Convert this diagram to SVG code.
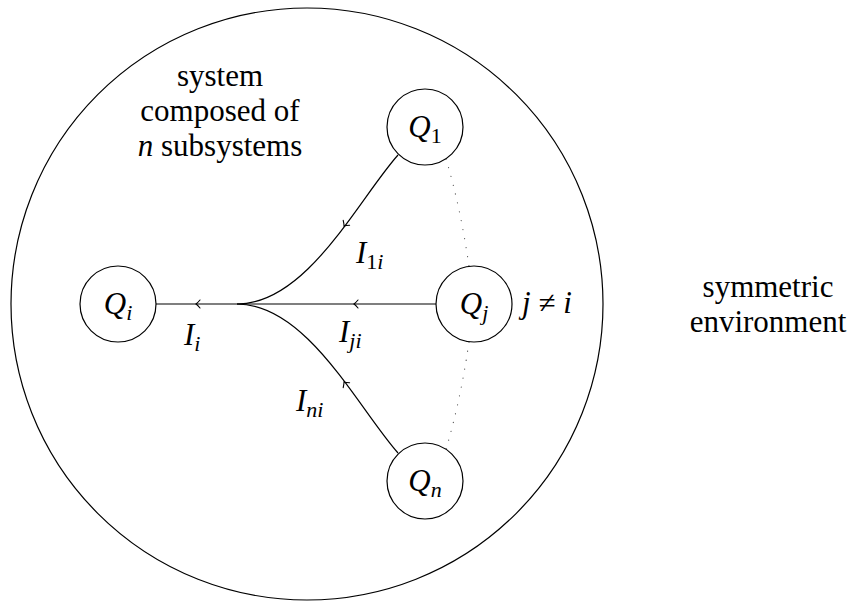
<svg xmlns="http://www.w3.org/2000/svg" width="856" height="601" viewBox="0 0 856 601">
<style>
.ln{fill:none;stroke:#000;stroke-width:1.2}
.nd{fill:#fff;stroke:#000;stroke-width:1.2}
.dt{fill:none;stroke:#555;stroke-width:1.2;stroke-linecap:round;stroke-dasharray:0.1 9}
.ah{fill:none;stroke:#000;stroke-width:1.1;stroke-linecap:round}
</style>
<defs>
<path id="arr" d="M4,-4 Q1.5,-1 0,0 Q1.5,1 4,4"/>
</defs>
<rect width="856" height="601" fill="#fff"/>
<g font-family="'Liberation Serif', 'Times New Roman', serif" font-size="31" fill="#000">
<g id="system">
<circle cx="307" cy="304" r="296" class="ln"/>
<text text-anchor="middle" x="220" y="86">system</text>
<text text-anchor="middle" x="220" y="121">composed of</text>
<text text-anchor="middle" x="220" y="156"><tspan font-style="italic">n</tspan> subsystems</text>
</g>
<g id="environment">
<text text-anchor="middle" x="768" y="297">symmetric</text>
<text text-anchor="middle" x="768" y="332">environment</text>
</g>
<g id="connectors">
<path class="ln" d="M156,304 H237"/>
<path class="ln" d="M436,304 H237"/>
<path class="ln" d="M398,155 C358,200 307,304 237,304"/>
<path class="ln" d="M398,453 C358,408 307,304 237,304"/>
<path class="dt" d="M446,159 Q460,205 469,266"/>
<path class="dt" d="M469,342 Q460,403 446,449"/>
<use href="#arr" class="ah" transform="translate(196,304)"/>
<use href="#arr" class="ah" transform="translate(354,304)"/>
<use href="#arr" class="ah" transform="translate(344,226) rotate(-53)"/>
<use href="#arr" class="ah" transform="translate(344,382) rotate(53)"/>
<g font-style="italic">
<text x="184" y="345">I<tspan font-size="22" dy="6">i</tspan></text>
<text x="356" y="263">I<tspan font-size="22" dy="6"><tspan font-style="normal">1</tspan>i</tspan></text>
<text x="339" y="342">I<tspan font-size="22" dy="6">ji</tspan></text>
<text x="296" y="411">I<tspan font-size="22" dy="6">ni</tspan></text>
<text x="522" y="313">j ≠ i</text>
</g>
</g>
<g id="Qi" font-style="italic">
<circle cx="118" cy="304" r="38" class="nd"/>
<text text-anchor="middle" x="118" y="314">Q<tspan font-size="22" dy="6">i</tspan></text>
</g>
<g id="Q1" font-style="italic">
<circle cx="425" cy="127" r="38" class="nd"/>
<text text-anchor="middle" x="425" y="137">Q<tspan font-size="22" font-style="normal" dy="6">1</tspan></text>
</g>
<g id="Qj" font-style="italic">
<circle cx="474" cy="304" r="38" class="nd"/>
<text text-anchor="middle" x="474" y="314">Q<tspan font-size="22" dy="6">j</tspan></text>
</g>
<g id="Qn" font-style="italic">
<circle cx="425" cy="481" r="38" class="nd"/>
<text text-anchor="middle" x="425" y="491">Q<tspan font-size="22" dy="6">n</tspan></text>
</g>
</g>
</svg>
